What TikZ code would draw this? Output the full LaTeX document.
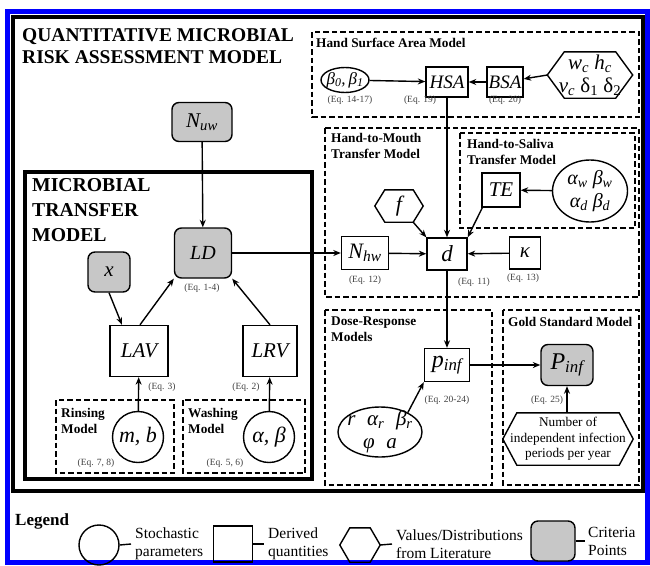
\documentclass[tikz,border=0pt]{standalone}
\usepackage{fontspec}
\setmainfont{Liberation Serif}
\usetikzlibrary{arrows.meta,shapes.geometric}
\newcommand{\myfs}[2]{\fontsize{#1}{#2}\selectfont}
\newcommand{\sbs}[1]{\textsubscript{#1}}
\newcommand{\hexpath}[2]{\draw[line width=1.4pt] (#1.west) -- ([xshift=#2]#1.north west) -- ([xshift=-#2]#1.north east) -- (#1.east) -- ([xshift=-#2]#1.south east) -- ([xshift=#2]#1.south west) -- cycle;}
\begin{document}
\begin{tikzpicture}[x=1pt,y=-1pt,
  nd/.style={draw, line width=1.4pt, inner sep=0pt, align=center},
  sq/.style={nd, rectangle, font=\myfs{21}{23}\itshape},
  gr/.style={nd, rounded corners=7pt, fill=black!22, font=\myfs{21}{23}\itshape},
  el/.style={nd, ellipse, font=\myfs{20}{23}\itshape},
  hx/.style={inner sep=0pt, align=center, font=\myfs{21}{23}\itshape},
  dbox/.style={line width=1.8pt, dash pattern=on 5.5pt off 3pt},
  dlabel/.style={anchor=north west, inner sep=0pt, align=left, font=\myfs{13.3}{16}\bfseries},
  eq/.style={inner sep=0pt, font=\myfs{9.5}{11}, text=black!75},
  arr/.style={line width=1.4pt, -{Stealth[length=7.5pt,width=6pt]}},
  con/.style={line width=1.4pt},
  lgt/.style={anchor=west, inner sep=0pt, align=left, font=\myfs{15.5}{18}}
]
\useasboundingbox (0,0) rectangle (650,565);
% frames
\draw[blue, line width=5pt] (7,11) rectangle (647,562);
\draw[line width=3.8pt] (13,17) rectangle (643,491);
\draw[line width=3.8pt] (25,172) rectangle (312,479);
% dashed sub-model boxes
\draw[dbox] (312,32) rectangle (639,117);
\draw[dbox] (325,128) rectangle (639,297);
\draw[dbox] (460,133) rectangle (635,228);
\draw[dbox] (325,310) rectangle (492,485);
\draw[dbox] (503,310) rectangle (639,485);
\draw[dbox] (56,400) rectangle (174,473);
\draw[dbox] (183,400) rectangle (305,473);
% titles
\node[anchor=north west, inner sep=0pt, align=left, font=\myfs{19.5}{22.5}\bfseries] (ttl) at (22,28) {QUANTITATIVE MICROBIAL\\RISK ASSESSMENT MODEL};
\node[anchor=north west, inner sep=0pt, align=left, font=\myfs{19.7}{25}\bfseries] (mtt) at (32,178) {MICROBIAL\\TRANSFER\\MODEL};
\node[dlabel] (lhsa) at (316,38) {Hand Surface Area Model};
\node[dlabel] (lhtm) at (331,133) {Hand-to-Mouth\\Transfer Model};
\node[dlabel] (lhts) at (467,139) {Hand-to-Saliva\\Transfer Model};
\node[dlabel] (ldr) at (331,317) {Dose-Response\\Models};
\node[dlabel] (lgs) at (508,317) {Gold Standard Model};
\node[dlabel] (lri) at (61,408) {Rinsing\\Model};
\node[dlabel] (lwa) at (188,408) {Washing\\Model};
% microbial transfer model nodes
\node[gr, minimum width=60pt, minimum height=39pt] (nuw) at (202,122) {N\sbs{uw}};
\node[gr, minimum width=57pt, minimum height=50pt, font=\myfs{20}{22}\itshape] (ld) at (203,253) {LD};
\node[gr, minimum width=42pt, minimum height=40pt] (xn) at (109,272) {x};
\node[sq, minimum width=58pt, minimum height=51pt] (lav) at (139,351) {LAV};
\node[sq, minimum width=54pt, minimum height=51pt] (lrv) at (270,351) {LRV};
\node[nd, circle, minimum size=51pt, font=\myfs{22}{24}\itshape] (mb) at (138,437) {m, b};
\node[nd, circle, minimum size=51pt, font=\myfs{22}{24}\itshape] (ab) at (269,437) {α, β};
% hand surface area
\node[el, inner xsep=-9pt, inner ysep=-4pt, minimum width=48pt, minimum height=25pt, font=\myfs{17}{19}\itshape] (bet) at (345,80) {β\sbs{0},\,β\sbs{1}};
\node[sq, minimum width=42pt, minimum height=30pt, font=\myfs{19}{21}\itshape] (hsa) at (447,82) {HSA};
\node[sq, minimum width=36pt, minimum height=30pt, font=\myfs{19}{21}\itshape] (bsa) at (505,82) {BSA};
\node[hx, minimum width=85pt, minimum height=46pt] (whx) at (590,75) {w\sbs{c} h\sbs{c}\\v\sbs{c} {\upshape δ\sbs{1} δ\sbs{2}}};
\hexpath{whx}{17pt}
% hand to mouth
\node[hx, minimum width=48pt, minimum height=32pt, font=\myfs{22}{24}\itshape] (fh) at (399,206) {f};
\hexpath{fh}{10pt}
\node[sq, minimum width=40pt, minimum height=32pt, font=\myfs{23}{25}\itshape] (dd) at (447,254) {d};
\node[sq, minimum width=47pt, minimum height=33pt, font=\myfs{22}{24}\itshape] (nhw) at (365,253) {N\sbs{hw}};
\node[sq, minimum width=31pt, minimum height=32pt, font=\myfs{21}{23}\itshape] (kap) at (525,253) {κ};
\node[sq, minimum width=38pt, minimum height=34pt] (te) at (501,190) {TE};
\node[el, inner xsep=-2pt, inner ysep=-2pt, minimum width=75pt, minimum height=62pt, font=\myfs{20}{23}\itshape] (awe) at (590,191) {α\sbs{w} β\sbs{w}\\α\sbs{d} β\sbs{d}};
% dose response / gold standard
\node[sq, minimum width=45pt, minimum height=33pt, font=\myfs{24}{26}\itshape] (pinf) at (447,365) {p\sbs{inf}};
\node[el, inner xsep=-3pt, inner ysep=-5pt, minimum width=84pt, minimum height=50pt, font=\myfs{21}{23}\itshape] (rab) at (380,432) {r\;\;α\sbs{r}\;\;β\sbs{r}\\φ\;\;a};
\node[gr, minimum width=52pt, minimum height=41pt, font=\myfs{24}{26}\itshape] (Pinf) at (567,365) {P\sbs{inf}};
\node[hx, minimum width=130pt, minimum height=52pt, font=\myfs{13.3}{15.5}] (nhex) at (568,439) {Number of\\independent infection\\periods per year};
\hexpath{nhex}{14pt}
% equation labels
\node[eq] (e1) at (350,100) {(Eq. 14-17)};
\node[eq] (e2) at (420,100) {(Eq. 19)};
\node[eq] (e3) at (505,100) {(Eq. 20)};
\node[eq] (e4) at (365,280) {(Eq. 12)};
\node[eq] (e5) at (474,282) {(Eq. 11)};
\node[eq] (e6) at (523,278) {(Eq. 13)};
\node[eq] (e7) at (202,288) {(Eq. 1-4)};
\node[eq] (e8) at (162,387) {(Eq. 3)};
\node[eq] (e9) at (246,387) {(Eq. 2)};
\node[eq] (e10) at (96,463) {(Eq. 7, 8)};
\node[eq] (e11) at (225,463) {(Eq. 5, 6)};
\node[eq] (e12) at (447,400) {(Eq. 20-24)};
\node[eq] (e13) at (547,400) {(Eq. 25)};
% connectors
\draw[arr] (nuw) -- (ld);
\draw[arr] (xn.south) -- ([xshift=-17pt]lav.north);
\draw[arr] ([xshift=1pt]lav.north) -- (ld.south west);
\draw[arr] (lrv.north) -- (ld.south east);
\draw[arr] (mb) -- (lav);
\draw[arr] (ab) -- (lrv);
\draw[arr] (ld.east) -- (ld.east -| nhw.west);
\draw[arr] (nhw) -- (dd);
\draw[arr] (kap) -- (dd);
\draw[arr] ([xshift=-10pt]fh.south east) -- (dd.north west);
\draw[arr] ([xshift=1pt]te.south west) -- (dd.north east);
\draw[arr] (hsa) -- (dd);
\draw[arr] (awe) -- (te);
\draw[arr] (bet) -- (hsa);
\draw[arr] (bsa) -- (hsa);
\draw[arr] (whx.west) -- (bsa);
\draw[arr] (dd) -- (pinf);
\draw[arr] (pinf) -- (Pinf);
\draw[arr] (rab.35) -- (pinf.south west);
\draw[arr] (nhex.north -| Pinf.south) -- (Pinf.south);
% legend
\node[anchor=north west, inner sep=0pt, font=\myfs{17}{19}\bfseries] (lgd) at (15,513) {Legend};
\node[nd, circle, minimum size=40pt] (lc) at (99,545) {};
\node[nd, minimum width=39pt, minimum height=36pt] (ls) at (233,544) {};
\node[inner sep=0pt, minimum width=40pt, minimum height=34pt] (lh) at (360,545) {};
\hexpath{lh}{10pt}
\node[nd, rounded corners=7pt, fill=black!22, minimum width=44pt, minimum height=40pt] (lg) at (553,541) {};
\node[lgt] (t1) at (135,544) {Stochastic\\parameters};
\node[lgt] (t2) at (268,544) {Derived\\quantities};
\node[lgt] (t3) at (396,544) {Values/Distributions\\from Literature};
\node[lgt] (t4) at (588,541) {Criteria\\Points};
\draw[con] (lc.east) -- ([xshift=-4pt]t1.west);
\draw[con] (ls.east) -- ([xshift=-4pt]t2.west);
\draw[con] (lh.east) -- ([xshift=-4pt]t3.west);
\draw[con] (lg.east) -- ([xshift=-3pt]t4.west);
\end{tikzpicture}
\end{document}
